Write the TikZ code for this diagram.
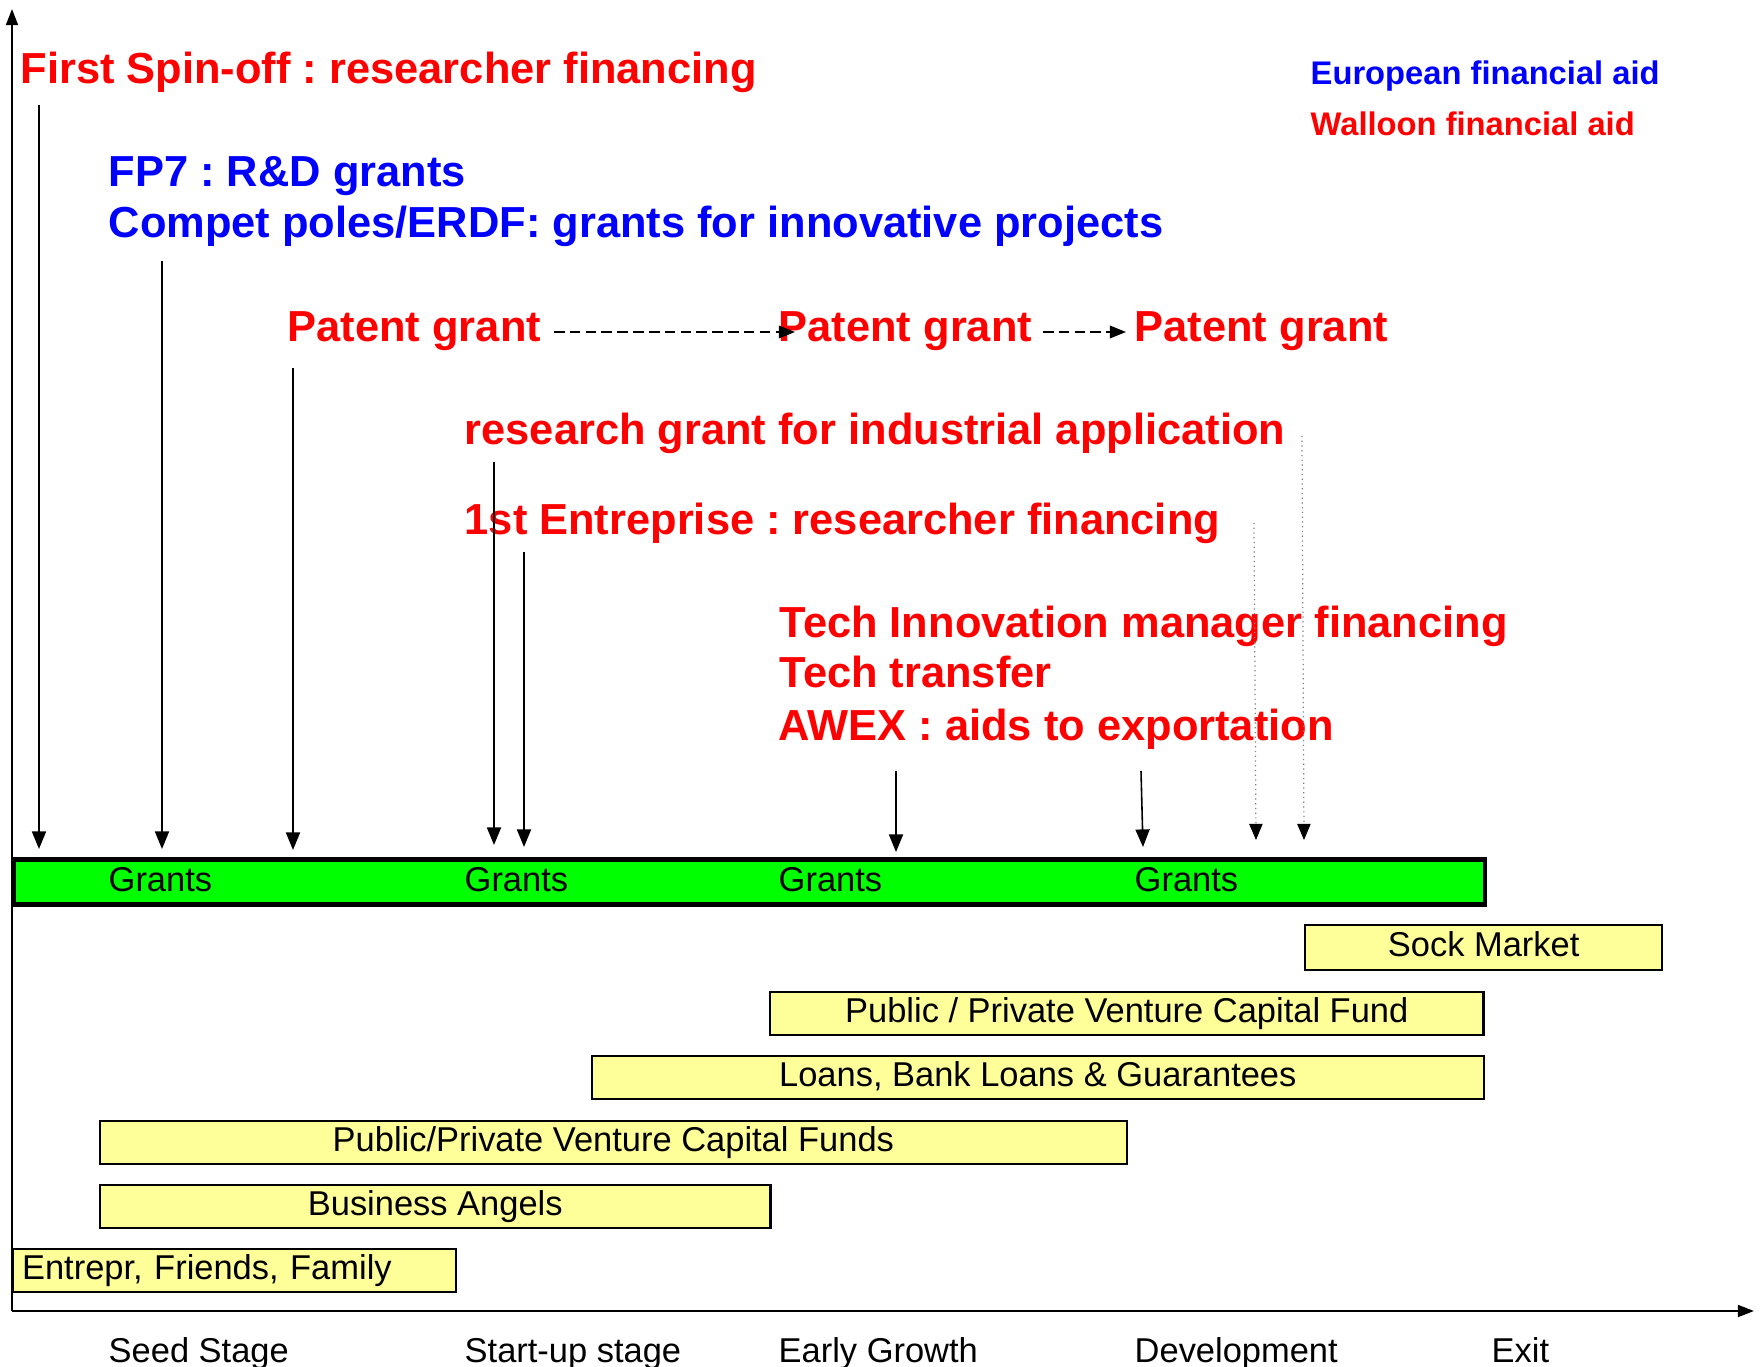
\documentclass[tikz,border=0pt]{standalone}
\usepackage{fontspec}
\setmainfont{Liberation Sans}
\usetikzlibrary{arrows.meta}
\definecolor{myred}{RGB}{255,0,0}
\definecolor{myblue}{RGB}{0,0,255}
\definecolor{mygreen}{RGB}{0,255,0}
\definecolor{myyellow}{RGB}{255,255,153}
\frenchspacing
\begin{document}
\begin{tikzpicture}[x=0.01cm,y=-0.01cm,
  big/.style={font=\fontsize{12.35pt}{14pt}\selectfont\bfseries, inner sep=0pt, anchor=base west},
  eu/.style={big, text=myblue},
  wa/.style={big, text=myred},
  legend/.style={font=\fontsize{9.3pt}{11pt}\selectfont\bfseries, inner sep=0pt, anchor=base west},
  reg/.style={font=\fontsize{9.8pt}{11pt}\selectfont, inner sep=0pt, anchor=base west},
  ybox/.style={draw=black, line width=0.6pt, fill=myyellow, font=\fontsize{9.8pt}{11pt}\selectfont,
     inner sep=0pt, anchor=north west, text height=7pt, text depth=2pt, minimum height=0.43cm},
  arr/.style={-{Triangle[width=4pt,length=5pt]}, line width=0.45pt},
  dotarr/.style={-{Triangle[width=3.8pt,length=4.6pt,color=black]}, draw=gray, line width=0.35pt, densely dotted},
  dasharr/.style={-{Triangle[width=3.6pt,length=4.6pt]}, line width=0.45pt, dash pattern=on 3pt off 1.5pt},
  axis/.style={-{Triangle[width=3.4pt,length=4.6pt]}, line width=0.6pt}
]
\useasboundingbox (0,0) rectangle (1763,1367);

% axes
\coordinate (origin) at (12,1311);
\coordinate (ytop) at (12,9);
\coordinate (xend) at (1754,1311);
\draw[axis] (origin) -- (ytop);
\draw[axis] (origin) -- (xend);

% legend
\node[legend, text=myblue] (leu) at (1310,85) {European financial aid};
\node[legend, text=myred] (lwa) at (1310,136) {Walloon financial aid};

% aid texts
\node[wa] (t1) at (20,84) {First Spin-off : researcher financing};
\node[eu] (t2) at (108,187) {FP7 : R\&D grants};
\node[eu] (t3) at (108,238) {Compet poles/ERDF: grants for innovative projects};
\node[wa] (p1) at (287,342) {Patent grant};
\node[wa] (p2) at (778,342) {Patent grant};
\node[wa] (p3) at (1134,342) {Patent grant};
\node[wa] (t4) at (464,445) {research grant for industrial application};
\node[wa] (t5) at (464,535) {1st Entreprise : researcher financing};
\node[wa] (t6) at (779,637) {Tech Innovation manager financing};
\node[wa] (t7) at (779,688) {Tech transfer};
\node[wa] (t8) at (778,740) {AWEX : aids to exportation};

% dashed patent arrows
\coordinate (d1s) at (554,332);
\coordinate (d1e) at (795,332);
\coordinate (d2s) at (1043,332);
\coordinate (d2e) at (1126,332);
\draw[dasharr] (d1s) -- (d1e);
\draw[dasharr] (d2s) -- (d2e);

% grants bar
\node[draw=black, line width=1.3pt, fill=mygreen, minimum width=14.71cm, minimum height=0.45cm,
      inner sep=0pt, anchor=north west] (bar) at (11,857) {};
\node[reg] (g1) at (108,891) {Grants};
\node[reg] (g2) at (464,891) {Grants};
\node[reg] (g3) at (778,891) {Grants};
\node[reg] (g4) at (1134,891) {Grants};

% solid arrows to the bar
\coordinate (a1s) at (39,105);   \coordinate (a1e) at (39,849);
\coordinate (a2s) at (162,261);  \coordinate (a2e) at (162,849);
\coordinate (a3s) at (293,368);  \coordinate (a3e) at (293,850);
\coordinate (a4s) at (494,462);  \coordinate (a4e) at (494,845);
\coordinate (a5s) at (524,552);  \coordinate (a5e) at (524,847);
\coordinate (a6s) at (896,771);  \coordinate (a6e) at (896,852);
\coordinate (a7s) at (1141,771); \coordinate (a7e) at (1143,847);
\foreach \i in {1,...,7} {\draw[arr] (a\i s) -- (a\i e);}

% dotted arrows
\coordinate (b1s) at (1254,523); \coordinate (b1e) at (1256,840);
\coordinate (b2s) at (1302,436); \coordinate (b2e) at (1304,840);
\draw[dotarr] (b1s) -- (b1e);
\draw[dotarr] (b2s) -- (b2e);

% financing boxes
\node[ybox, minimum width=3.57cm, minimum height=0.45cm] (sm) at (1304,924) {Sock Market};
\node[ybox, minimum width=7.13cm] (pvc) at (769,991) {Public / Private Venture Capital Fund};
\node[ybox, minimum width=8.91cm] (loans) at (591,1055) {Loans, Bank Loans \& Guarantees};
\node[ybox, minimum width=10.26cm] (ppvcf) at (99,1120) {Public/Private Venture Capital Funds};
\node[ybox, minimum width=6.70cm] (ba) at (99,1184) {Business Angels};
\node[ybox, text width=4.25cm, inner xsep=0.09cm, align=left] (eff) at (12,1248) {Entrepr, Friends, Family};

% stage labels
\node[reg] (s1) at (108,1362) {Seed Stage};
\node[reg] (s2) at (464,1362) {Start-up stage};
\node[reg] (s3) at (778,1362) {Early Growth};
\node[reg] (s4) at (1134,1362) {Development};
\node[reg] (s5) at (1491,1362) {Exit};
\end{tikzpicture}
\end{document}
